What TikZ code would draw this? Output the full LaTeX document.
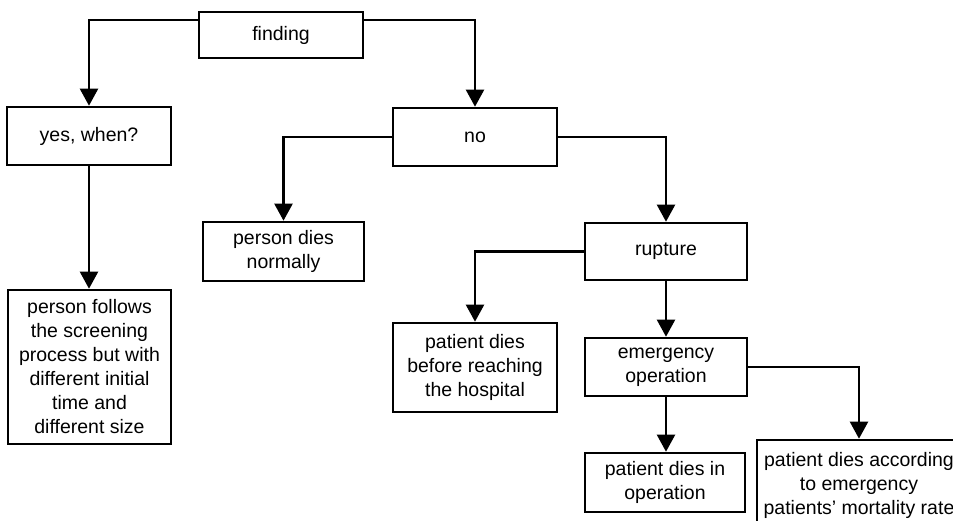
\documentclass[tikz,border=0pt]{standalone}
\usepackage{fontspec}
\setmainfont{Liberation Sans}
\usetikzlibrary{arrows.meta}
\begin{document}
\begin{tikzpicture}[x=1pt,y=-1pt,
  box/.style={draw=black, line width=2.6pt, fill=white, inner sep=0pt, align=center,
    font=\fontsize{19.5}{24}\selectfont},
  arr/.style={draw=black, line width=2.2pt, -{Triangle[width=18pt,length=17pt]}}]
\fill[white] (0,0) rectangle (953,521);
\clip (0,0) rectangle (953,521);
\useasboundingbox (0,0) rectangle (953,521);
\node[box, minimum width=164pt, minimum height=46pt] (finding) at (281,35) {finding};
\node[box, minimum width=164pt, minimum height=58pt] (yes) at (89,136) {yes, when?};
\node[box, minimum width=164pt, minimum height=58pt] (no) at (475,137) {no};
\node[box, minimum width=161pt, minimum height=59pt] (normally) at (283.5,251.5) {person dies\\normally};
\node[box, minimum width=163pt, minimum height=154pt] (follows) at (89.5,367) {person follows\\the screening\\process but with\\different initial\\time and\\different size};
\node[box, minimum width=162pt, minimum height=57pt] (rupture) at (666,251.5) {rupture};
\node[box, minimum width=164pt, minimum height=89pt] (before) at (475,367.5) {patient dies\\before reaching\\the hospital};
\node[box, minimum width=162pt, minimum height=58pt] (emergency) at (666,367) {emergency\\operation};
\node[box, minimum width=160pt, minimum height=59pt] (inop) at (665,482.5) {patient dies in\\operation};
\node[box, minimum width=204pt, minimum height=90pt] (according) at (859,485) {patient dies according\\to emergency\hspace{0.6em}\\patients{\char"0027} mortality rate};
\draw[arr] ([yshift=15pt]finding.west) -| (yes.north);
\draw[arr] ([yshift=15pt]finding.east) -| (no.north);
\draw[arr] (yes.south) -- (yes.south |- follows.north);
\draw[arr] (no.west) -| (normally.north);
\draw[arr] (no.east) -| (rupture.north);
\draw[arr] (rupture.west) -| (before.north);
\draw[arr] (rupture.south) -- (emergency.north);
\draw[arr] (emergency.south) -- (emergency.south |- inop.north);
\draw[arr] (emergency.east) -| (according.north);
\end{tikzpicture}
\end{document}
